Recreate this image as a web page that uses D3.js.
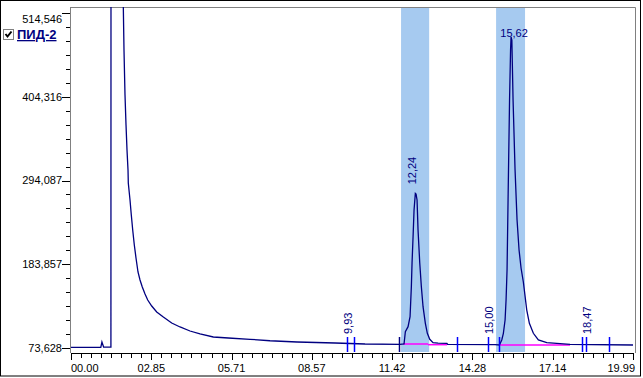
<!DOCTYPE html>
<html>
<head>
<meta charset="utf-8">
<script src="https://cdn.jsdelivr.net/npm/d3@7"></script>
<style>
  body { margin: 0; background: #fff; }
  svg { display: block; font-family: "Liberation Sans", Arial, sans-serif; }
</style>
</head>
<body>
<svg width="643" height="378"></svg>
<script>
// chromatogram trace: time (min) and detector signal
var traceT = [0, 1.03, 1.06, 1.10, 1.16, 1.42, 1.44, 1.80, 1.861, 1.885, 1.921, 1.957, 1.992, 2.028, 2.038,
  2.099, 2.145, 2.195, 2.252, 2.312, 2.383, 2.455, 2.536, 2.633, 2.729, 2.871, 3.049, 3.284, 3.582, 3.878,
  4.233, 4.589, 5.062, 5.596, 6.368, 7.079, 8.040, 9.392, 10.459, 11.70,
  11.846, 11.893, 11.989, 12.06, 12.106, 12.131, 12.167, 12.202, 12.248, 12.273, 12.309, 12.344, 12.405,
  12.462, 12.522, 12.604, 12.675, 12.761, 12.878, 13.056, 13.37, 13.40, 15.084,
  15.237, 15.322, 15.379, 15.44, 15.475, 15.51, 15.546, 15.599, 15.635, 15.653, 15.681, 15.724, 15.795,
  15.866, 15.937, 16.008, 16.09, 16.211, 16.304, 16.446, 16.624, 16.923, 17.279, 17.752, 19.99];
var traceV = [74550, 74550, 74550, 81500, 74900, 74900, 4000000, 1200000, 522500, 465850, 406600, 367100, 334200, 307900, 290800,
  268400, 248700, 228900, 209200, 192100, 173700, 163100, 153900, 144700, 136800, 128900, 121000, 114400, 106500, 101300,
  96000, 92100, 88100, 86800, 85100, 83200, 81500, 80200, 78900, 78500,
  78900, 95100, 101700, 114800, 154300, 185500, 220100, 255300, 277200, 276300, 268400, 228900, 185500,
  154300, 128000, 106100, 93000, 85100, 80600, 80000, 79800, 78300, 78200,
  77600, 84200, 93000, 110500, 136800, 176300, 268400, 400000, 465850, 483000, 479000, 400000, 307900,
  242100, 202600, 178900, 160500, 123600, 106100, 93000, 84200, 80600, 79800, 78500, 77600];

// integration windows (shaded)
var windowStart = [11.74, 15.12];
var windowEnd = [12.74, 16.15];

// integration baselines (magenta)
var baseT1 = [11.81, 12.70, 15.226];
var baseT2 = [12.70, 13.376, 17.75];
var baseV = [78900, 78000, 77600];

// event markers and their labels
var markerT = [9.82, 10.07, 11.67, 13.73, 14.83, 15.23, 18.18, 18.32, 19.14];
var markerText = ["9,93", "", "", "", "15,00", "", "", "18,47", ""];
var markerDark = [false, false, true, false, false, false, false, false, false];

// peak labels
var peakT = [12.248, 15.653];
var peakV = [277200, 483000];
var peakText = ["12,24", "15,62"];

// axes
var yTickValues = [73628, 183857, 294087, 404316, 514546];
var xTickLabels = ["00.00", "02.85", "05.71", "08.57", "11.42", "14.28", "17.14", "19.99"];
var xMax = 19.99;

var svg = d3.select("svg");
var pLeft = 71, pRight = 633, pTop = 7, pBottom = 353;

var x = d3.scaleLinear().domain([0, xMax]).range([pLeft, pRight]);
var y = d3.scaleLinear().domain([73628, 514546]).range([348, 13]);

svg.append("defs").append("clipPath").attr("id", "plot")
  .append("rect").attr("x", pLeft).attr("y", pTop).attr("width", 635 - pLeft).attr("height", pBottom - pTop);

// outer frame
svg.append("rect").attr("x", 0.5).attr("y", 0.5).attr("width", 640).attr("height", 375.5)
  .attr("fill", "none").attr("stroke", "#000");

// shaded windows
svg.append("g").selectAll("rect")
  .data(windowStart)
  .enter().append("rect")
    .attr("x", function(d) { return x(d); })
    .attr("y", pTop)
    .attr("width", function(d, i) { return x(windowEnd[i]) - x(d); })
    .attr("height", 352 - pTop)
    .attr("fill", "#a6caf0");

// plot frame (top/right gray)
svg.append("path").attr("d", "M" + pLeft + "," + (pTop + 0.5) + "H635.5V" + pBottom)
  .attr("fill", "none").attr("stroke", "#808080");

// y axis
var yAxis = svg.append("g");
yAxis.append("line").attr("x1", pLeft - 0.5).attr("x2", pLeft - 0.5).attr("y1", pTop).attr("y2", pBottom)
  .attr("stroke", "#808080");
var yStep = (yTickValues[1] - yTickValues[0]) / 6;
var yMinor = d3.range(yTickValues[0], yTickValues[yTickValues.length - 1] + 1, yStep);
yAxis.selectAll(".ym").data(yMinor).enter().append("line")
  .attr("x1", pLeft - 5).attr("x2", pLeft - 1)
  .attr("y1", function(d) { return Math.round(y(d)) + 0.5; })
  .attr("y2", function(d) { return Math.round(y(d)) + 0.5; })
  .attr("stroke", "#000");
yAxis.selectAll(".yM").data(yTickValues).enter().append("line")
  .attr("x1", pLeft - 9).attr("x2", pLeft - 1)
  .attr("y1", function(d) { return Math.round(y(d)) + 0.5; })
  .attr("y2", function(d) { return Math.round(y(d)) + 0.5; })
  .attr("stroke", "#000");
yAxis.selectAll("text").data(yTickValues).enter().append("text")
  .attr("x", 62)
  .attr("y", function(d, i) { return y(d) + (i == yTickValues.length - 1 ? 6 : 0); })
  .attr("dy", "0.35em")
  .attr("text-anchor", "end")
  .attr("font-size", "11px")
  .attr("fill", "#000")
  .text(function(d) { return d3.format(",")(d); });

// x axis
var xAxis = svg.append("g");
xAxis.append("line").attr("x1", pLeft).attr("x2", pRight + 1).attr("y1", pBottom + 0.5).attr("y2", pBottom + 0.5)
  .attr("stroke", "#000");
var nMaj = xTickLabels.length - 1;
var xMinor = d3.range(0, nMaj * 8 + 1).map(function(k) { return k * xMax / (nMaj * 8); });
xAxis.selectAll(".xm").data(xMinor).enter().append("line")
  .attr("x1", function(d) { return Math.round(x(d)) + 0.5; })
  .attr("x2", function(d) { return Math.round(x(d)) + 0.5; })
  .attr("y1", pBottom).attr("y2", function(d, i) { return i % 8 == 0 ? pBottom + 7 : pBottom + 5; })
  .attr("stroke", "#000");
xAxis.selectAll("text").data(xTickLabels).enter().append("text")
  .attr("x", function(d, i) {
    if (i == 0) return pLeft;
    if (i == nMaj) return 635;
    return x(i * xMax / nMaj);
  })
  .attr("y", 372)
  .attr("text-anchor", function(d, i) { return i == 0 ? "start" : (i == nMaj ? "end" : "middle"); })
  .attr("font-size", "11px")
  .attr("fill", "#000")
  .text(function(d) { return d; });

var plot = svg.append("g").attr("clip-path", "url(#plot)");

// integration baselines
plot.selectAll(".base").data(baseT1).enter().append("line")
  .attr("x1", function(d) { return x(d); })
  .attr("x2", function(d, i) { return x(baseT2[i]); })
  .attr("y1", function(d, i) { return y(baseV[i]); })
  .attr("y2", function(d, i) { return y(baseV[i]); })
  .attr("stroke", "#ff00ff").attr("stroke-width", 1.5);

// trace
var line = d3.line()
  .x(function(d) { return x(d); })
  .y(function(d, i) { return y(traceV[i]); });
plot.append("path")
  .attr("d", line(traceT))
  .attr("fill", "none")
  .attr("stroke", "#000080")
  .attr("stroke-width", 1.3);

// event markers
plot.selectAll(".mk").data(markerT).enter().append("line")
  .attr("x1", function(d) { return Math.round(x(d)) + 0.5; })
  .attr("x2", function(d) { return Math.round(x(d)) + 0.5; })
  .attr("y1", 337).attr("y2", 352)
  .attr("stroke", function(d, i) { return markerDark[i] ? "#000080" : "#0000ff"; })
  .attr("stroke-width", 1.5);

svg.selectAll(".mkl").data(markerT).enter().append("text")
  .attr("transform", function(d) { return "translate(" + (Math.round(x(d)) + 5) + ",334) rotate(-90)"; })
  .attr("font-size", "11px")
  .attr("fill", "#000080")
  .text(function(d, i) { return markerText[i]; });

// peak labels: rotated if room, else horizontal at top
svg.selectAll(".pk").data(peakT).enter().append("text")
  .attr("transform", function(d, i) {
    var py = y(peakV[i]);
    if (py - 10 > 40) return "translate(" + (x(d) + 1) + "," + (py - 9) + ") rotate(-90)";
    return "translate(" + (x(d) + 3) + "," + (py) + ")";
  })
  .attr("text-anchor", function(d, i) { return y(peakV[i]) - 10 > 40 ? "start" : "middle"; })
  .attr("font-size", "11px")
  .attr("fill", "#000080")
  .text(function(d, i) { return peakText[i]; });

// legend
var lg = svg.append("g");
lg.append("rect").attr("x", 3.5).attr("y", 29.5).attr("width", 10).attr("height", 10)
  .attr("fill", "#fff").attr("stroke", "#808080");
lg.append("path").attr("d", "M5.5,34 L7.5,36.5 L11.5,31.5")
  .attr("fill", "none").attr("stroke", "#000").attr("stroke-width", 2);
lg.append("text").attr("x", 17).attr("y", 39)
  .attr("font-size", "13px").attr("font-weight", "bold")
  .attr("fill", "#000080")
  .attr("text-decoration", "underline")
  .text("ПИД-2");
</script>
</body>
</html>
